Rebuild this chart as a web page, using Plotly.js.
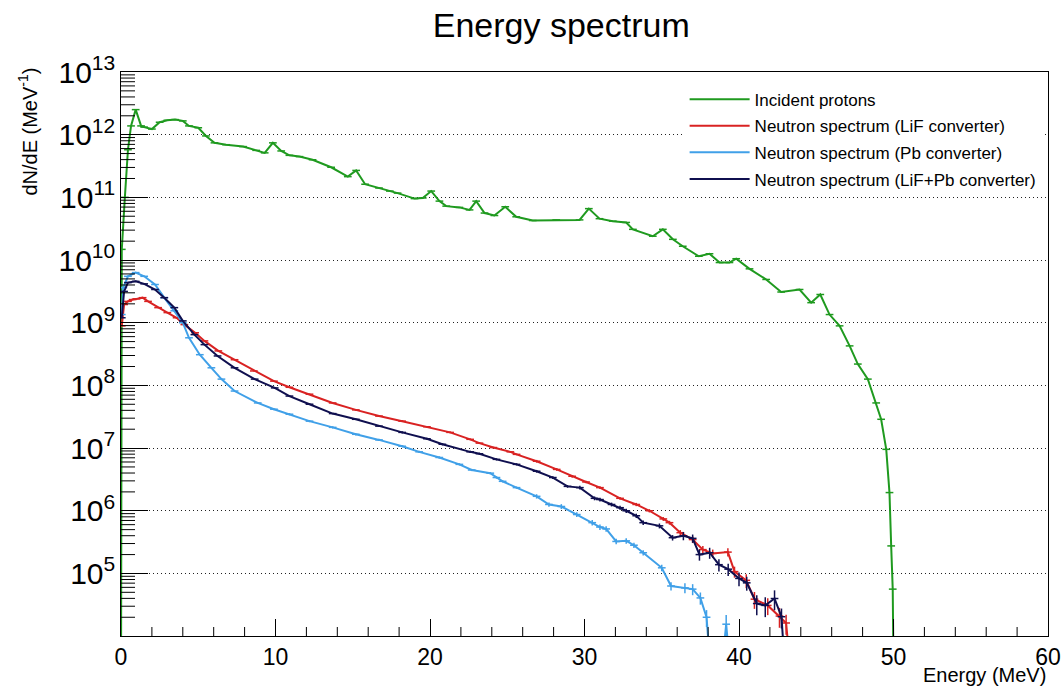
<!DOCTYPE html>
<html>
<head>
<meta charset="utf-8">
<script src="https://cdn.plot.ly/plotly-3.0.1.min.js"></script>
<style>
html,body{margin:0;padding:0;background:#fff;}
#chart{width:1061px;height:686px;}
</style>
</head>
<body>
<div id="chart"></div>
<script>
// ---- Data (energy in MeV, dN/dE in MeV^-1) ----
const seriesNames = [
  "Incident protons",
  "Neutron spectrum (LiF converter)",
  "Neutron spectrum (Pb converter)",
  "Neutron spectrum (LiF+Pb converter)"
];

const protonE = [0.0,0.05,0.25,0.45,0.65,0.95,1.3,1.5,2.0,2.5,3.0,3.5,4.0,4.4,5.0,5.5,6.05,6.8,7.9,8.75,
  9.3,9.83,10.37,10.9,11.55,12.4,13.6,14.68,15.22,15.8,16.7,17.4,17.9,19.0,19.53,20.08,20.61,21.05,21.9,22.56,
  22.99,23.53,24.17,24.87,25.58,26.65,28.17,29.68,30.28,30.97,31.83,32.7,33.13,34.42,35.07,35.72,36.36,37.4,38.09,38.74,
  39.38,39.82,40.68,41.76,42.73,43.92,44.67,45.26,45.86,46.51,47.16,47.69,48.34,48.88,49.2,49.53,49.74,49.85,49.95,50.02];
const protonN = [1e3,1.48e10,1.0e11,5.75e11,1.38e12,2.51e12,1.38e12,1.32e12,1.23e12,1.58e12,1.70e12,1.74e12,1.66e12,1.38e12,1.29e12,9.55e11,7.41e11,6.92e11,6.46e11,5.62e11,
  5.13e11,7.41e11,5.50e11,4.68e11,4.47e11,3.98e11,3.02e11,2.14e11,2.69e11,1.62e11,1.41e11,1.26e11,1.17e11,9.55e10,9.77e10,1.26e11,8.71e10,7.24e10,6.92e10,6.31e10,
  8.71e10,5.62e10,5.13e10,7.08e10,4.90e10,4.27e10,4.37e10,4.37e10,6.61e10,4.57e10,4.17e10,3.98e10,3.09e10,2.40e10,3.09e10,2.14e10,1.66e10,1.15e10,1.26e10,9.12e9,
  9.12e9,1.05e10,7.24e9,4.90e9,3.09e9,3.39e9,2.09e9,2.82e9,1.35e9,8.91e8,4.27e8,2.19e8,1.26e8,5.25e7,2.88e7,9.55e6,1.95e6,2.75e5,5.62e4,1e3];
const protonRelErr = 0.01;

const lifE = [0.05,0.2,0.45,0.75,1.0,1.4,1.75,2.4,3.0,3.6,
  4.1,4.8,5.4,6.3,7.35,8.6,9.9,10.9,12.2,13.7,
  15.2,16.7,18.2,19.8,21.3,22.6,23.2,24.1,25.2,25.6,
  26.9,28.2,29.2,30.1,31.0,32.3,33.35,34.2,35.1,35.5,
  36.2,37.0,37.66,38.3,39.28,39.71,40.47,41.0,41.86,42.62,
  43.05,43.5];
const lifN = [8.91e8,1.95e9,2.19e9,2.34e9,2.40e9,2.51e9,2.19e9,1.74e9,1.45e9,1.20e9,
  9.33e8,6.92e8,5.13e8,3.55e8,2.57e8,1.70e8,1.17e8,9.33e7,7.24e7,5.25e7,
  4.07e7,3.24e7,2.69e7,2.19e7,1.78e7,1.38e7,1.20e7,1.02e7,8.71e6,7.94e6,
  6.17e6,4.57e6,3.55e6,2.88e6,2.34e6,1.58e6,1.26e6,1.0e6,7.41e5,6.46e5,
  4.47e5,3.47e5,2.40e5,2.09e5,2.19e5,1.07e5,7.76e4,3.89e4,3.09e4,2.09e4,
  1.62e4,1e3];
const lifRelErr = [0.02,0.02,0.02,0.02,0.02,0.02,0.02,0.02,0.02,0.02,
  0.02,0.02,0.02,0.02,0.02,0.02,0.02,0.02,0.02,0.02,
  0.03,0.03,0.03,0.03,0.03,0.03,0.03,0.03,0.03,0.03,
  0.05,0.05,0.05,0.05,0.05,0.05,0.06,0.06,0.07,0.07,
  0.10,0.12,0.14,0.15,0.15,0.20,0.25,0.30,0.30,0.35,
  0.35,0];

const pbE = [0.05,0.15,0.45,0.95,1.5,2.2,2.8,3.45,4.0,4.4,
  5.1,5.85,6.5,7.35,8.85,9.9,10.9,12.2,13.7,15.2,
  16.7,18.2,19.3,20.6,21.9,22.7,23.9,24.3,24.7,25.6,
  26.9,27.7,28.5,29.5,30.5,31.0,31.4,32.05,32.7,33.2,
  33.8,35.0,35.6,36.5,37.0,37.5,37.9,38.3,38.7,39.17,
  39.6];
const pbN = [1.35e9,3.63e9,5.50e9,6.31e9,5.50e9,4.07e9,2.51e9,1.55e9,1.0e9,5.75e8,
  3.09e8,1.91e8,1.26e8,8.13e7,5.25e7,4.17e7,3.47e7,2.69e7,2.14e7,1.66e7,
  1.35e7,1.07e7,8.71e6,7.08e6,5.50e6,4.47e6,3.98e6,3.39e6,2.95e6,2.34e6,
  1.70e6,1.26e6,1.17e6,8.71e5,6.46e5,5.50e5,5.13e5,3.24e5,3.31e5,2.82e5,
  2.14e5,1.23e5,6.31e4,5.89e4,5.62e4,4.07e4,2.0e4,1e3,1e3,1.55e4,
  1e3];
const pbRelErr = [0.02,0.02,0.02,0.02,0.02,0.02,0.02,0.02,0.02,0.02,
  0.02,0.02,0.02,0.02,0.02,0.04,0.04,0.04,0.04,0.04,
  0.04,0.04,0.04,0.04,0.04,0.04,0.04,0.04,0.04,0.04,
  0.08,0.08,0.09,0.09,0.10,0.10,0.10,0.10,0.10,0.10,
  0.10,0.12,0.15,0.18,0.20,0.22,0.30,0,0,0.40,
  0];

const lifpbE = [0.05,0.2,0.45,0.95,1.5,2.2,2.8,3.45,4.0,4.75,
  5.4,6.25,7.35,8.65,9.95,10.9,12.2,13.7,15.2,16.7,
  18.2,19.8,20.8,22.6,23.2,24.3,25.6,26.9,27.95,28.9,
  29.7,30.65,31.0,31.75,32.3,32.7,33.35,33.8,34.85,35.7,
  36.4,37.0,37.44,38.1,38.7,39.3,40.0,40.5,41.15,41.7,
  42.3,42.75,43.1];
const lifpbN = [1.20e9,3.16e9,4.37e9,4.57e9,4.17e9,3.39e9,2.51e9,1.74e9,1.07e9,6.46e8,
  4.47e8,2.95e8,1.91e8,1.26e8,9.12e7,6.76e7,5.01e7,3.55e7,2.88e7,2.24e7,
  1.78e7,1.41e7,1.15e7,8.71e6,8.13e6,6.61e6,5.50e6,4.27e6,3.39e6,2.45e6,
  2.34e6,1.58e6,1.51e6,1.26e6,1.12e6,1.0e6,8.32e5,6.46e5,5.75e5,3.72e5,
  3.98e5,3.63e5,2.0e5,2.14e5,1.38e5,1.17e5,8.32e4,7.08e4,3.31e4,3.09e4,
  3.98e4,2.04e4,1e3];
const lifpbRelErr = [0.02,0.02,0.02,0.02,0.02,0.02,0.02,0.02,0.02,0.02,
  0.02,0.02,0.02,0.02,0.02,0.02,0.02,0.02,0.02,0.02,
  0.04,0.04,0.04,0.04,0.04,0.04,0.04,0.05,0.05,0.05,
  0.07,0.07,0.07,0.07,0.07,0.08,0.08,0.08,0.09,0.10,
  0.15,0.15,0.20,0.20,0.22,0.22,0.25,0.25,0.35,0.35,
  0.35,0.35,0];

const binHalfWidth = 0.25;
const colors = ["#1f9a1f", "#d92222", "#40a0e8", "#0f0f4f"];

// ---- Build traces ----
function histTrace(name, x, y, rel, color) {
  const err = y.map((v, i) => v * (Array.isArray(rel) ? (rel[i] || 0) : rel));
  return {
    type: "scatter", mode: "lines", name: name, x: x, y: y,
    legendgroup: name,
    line: {color: color, width: 2},
    error_x: {type: "constant", value: binHalfWidth, width: 0, thickness: 1.5, color: color},
    error_y: {type: "data", array: err, width: 0, thickness: 1.5, color: color}
  };
}

const data = [
  histTrace(seriesNames[0], protonE, protonN, protonRelErr, colors[0]),
  histTrace(seriesNames[1], lifE, lifN, lifRelErr, colors[1]),
  histTrace(seriesNames[2], pbE, pbN, pbRelErr, colors[2]),
  histTrace(seriesNames[3], lifpbE, lifpbN, lifpbRelErr, colors[3])
];

// ---- Minor tick marks (ROOT style, inside), drawn as axis-referenced line shapes ----
const xRange = [0, 60], yLogRange = [4.002, 13];
const tickShapes = [];
function xTick(v, len) {
  tickShapes.push({type: "line", xref: "x", yref: "paper", ysizemode: "pixel", yanchor: 0,
    x0: v, x1: v, y0: 0, y1: len, line: {color: "#000", width: 1}, layer: "above"});
}
function yTick(v, len) {
  tickShapes.push({type: "line", yref: "y", xref: "paper", xsizemode: "pixel", xanchor: 0,
    y0: v, y1: v, x0: 0, x1: len, line: {color: "#000", width: 1}, layer: "above"});
}
for (let v = 2; v < 60; v += 2) if (v % 10 !== 0) xTick(v, 9);
for (let k = 4; k < 13; k++) for (let m = 2; m <= 9; m++) yTick(m * Math.pow(10, k), 14);

const font = "Liberation Sans, Arial, Helvetica, sans-serif";

const layout = {
  width: 1061, height: 686,
  margin: {l: 121, r: 13, t: 72, b: 50},
  paper_bgcolor: "#ffffff", plot_bgcolor: "#ffffff",
  font: {family: font, color: "#000"},
  showlegend: true,
  title: {
    text: "Energy spectrum",
    font: {family: font, size: 34, color: "#000"},
    xref: "container", x: 0.529, xanchor: "center",
    yref: "container", y: 0.964, yanchor: "middle"
  },
  xaxis: {
    range: xRange, tick0: 0, dtick: 10,
    ticks: "inside", ticklen: 17, tickwidth: 1, tickcolor: "#000",
    showline: true, linecolor: "#000", linewidth: 1, mirror: true,
    showgrid: false, zeroline: false,
    tickfont: {family: font, size: 23, color: "#000"}
  },
  yaxis: {
    type: "log", range: yLogRange, dtick: 1,
    exponentformat: "power",
    ticks: "inside", ticklen: 27, tickwidth: 1, tickcolor: "#000",
    showline: true, linecolor: "#000", linewidth: 1, mirror: true,
    showgrid: true, gridcolor: "#222", gridwidth: 1, griddash: "1px,3px",
    zeroline: false,
    tickfont: {family: font, size: 24, color: "#000"}
  },
  legend: {
    x: 0.608, xanchor: "left", y: 0.983, yanchor: "top",
    bgcolor: "#ffffff", borderwidth: 0,
    font: {family: font, size: 17, color: "#000"},
    itemwidth: 60,
    tracegroupgap: 1.5
  },
  shapes: tickShapes,
  annotations: [
    {
      text: "dN/dE (MeV<sup>-1</sup>)", textangle: -90,
      xref: "paper", yref: "paper", x: -0.101, y: 0.895,
      xanchor: "center", yanchor: "middle", showarrow: false,
      font: {family: font, size: 20, color: "#000"}
    },
    {
      text: "Energy (MeV)",
      xref: "paper", yref: "paper", x: 1.0, y: -0.0691,
      xanchor: "right", yanchor: "middle", showarrow: false,
      font: {family: font, size: 20, color: "#000"}
    }
  ]
};

Plotly.newPlot("chart", data, layout, {displayModeBar: false, staticPlot: true});
</script>
</body>
</html>
